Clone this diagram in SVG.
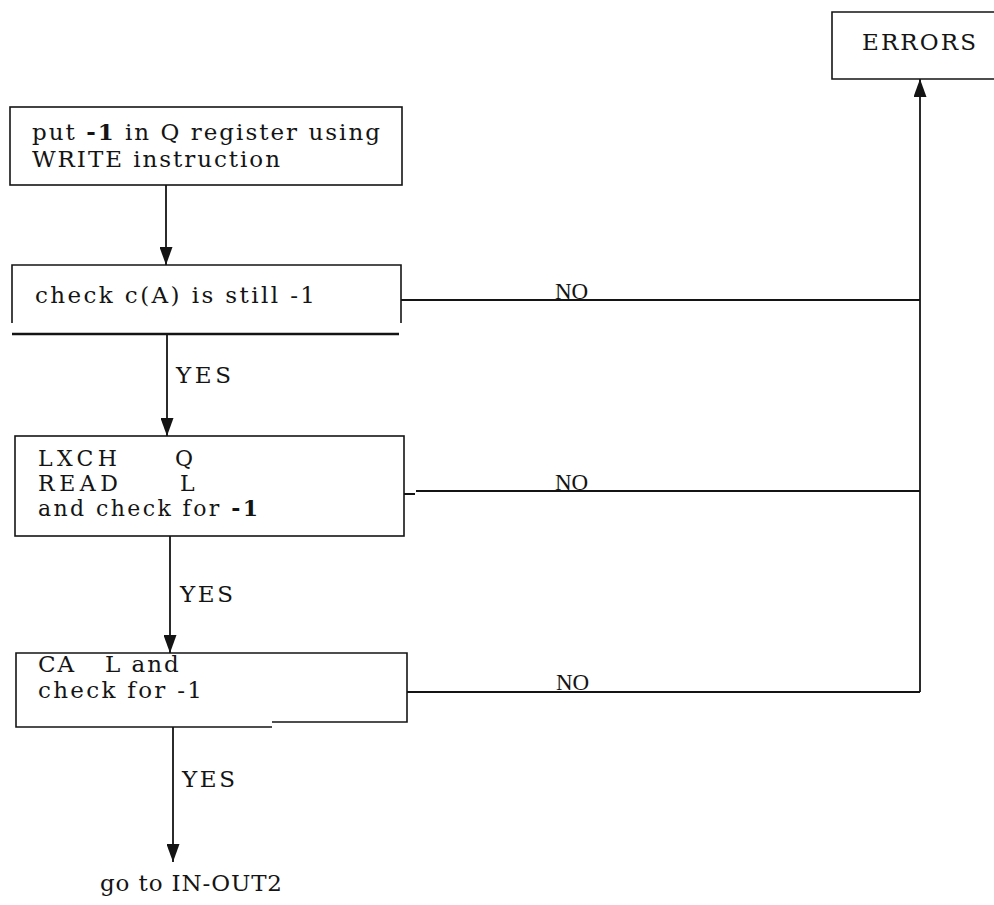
<svg xmlns="http://www.w3.org/2000/svg" width="994" height="905" viewBox="0 0 994 905">
  <style>
    .box{fill:none;stroke:#141414;stroke-width:1.6}
    .ln{fill:none;stroke:#141414;stroke-width:1.8}
    .heavy{fill:none;stroke:#141414;stroke-width:2.6}
    .t{font-family:"DejaVu Serif","Liberation Serif",serif;font-size:23px;fill:#141414}
    .s{font-size:22px}
    .no{font-family:"Liberation Serif","Times New Roman",serif;font-size:23px;fill:#141414}
    .b{font-weight:bold}
  </style>
  <defs>
    <marker id="ah" viewBox="0 0 18 13" refX="18" refY="6.5" markerWidth="18" markerHeight="13" markerUnits="userSpaceOnUse" orient="auto">
      <path d="M0,0 L18,6.5 L0,13 z" fill="#141414"/>
    </marker>
  </defs>

  <rect width="994" height="905" fill="#ffffff"/>

  <!-- error exit (box runs off the right edge) -->
  <g id="errors">
    <path class="box" d="M1000,12 H832 V79 H1000"/>
    <text class="t" x="862" y="50" textLength="114">ERRORS</text>
  </g>

  <!-- step 1 -->
  <g id="put-q">
    <rect class="box" x="10" y="107" width="392" height="78"/>
    <text class="t" x="32" y="140" textLength="348">put <tspan class="b">-1</tspan> in Q register using</text>
    <text class="t" x="32" y="167" textLength="248">WRITE instruction</text>
  </g>

  <!-- step 2 -->
  <g id="check-a">
    <path class="box" d="M12,323 V265 H401 V323"/>
    <path class="heavy" d="M12,334 H399"/>
    <text class="t" x="35" y="303" textLength="280">check c(A) is still -1</text>
  </g>

  <!-- step 3 -->
  <g id="lxch">
    <rect class="box" x="15" y="436" width="389" height="100"/>
    <text class="t s" x="38" y="466" textLength="79">LXCH</text>
    <text class="t s" x="175" y="466">Q</text>
    <text class="t s" x="38" y="491" textLength="80">READ</text>
    <text class="t s" x="180" y="491">L</text>
    <text class="t s" x="38" y="516" textLength="220">and check for <tspan class="b">-1</tspan></text>
  </g>

  <!-- step 4 -->
  <g id="ca-l">
    <path class="box" d="M272,727 H16 V653 H407 V722 H272"/>
    <text class="t" x="38" y="672" letter-spacing="2">CA</text>
    <text class="t" x="105" y="672" letter-spacing="2">L and</text>
    <text class="t" x="38" y="698" textLength="164">check for -1</text>
  </g>

  <!-- exit -->
  <g id="in-out2">
    <text class="t" x="100" y="891" textLength="182">go to IN-OUT2</text>
  </g>

  <!-- connectors -->
  <g id="connectors">
    <path class="ln" d="M166,185 V265" marker-end="url(#ah)"/>
    <path class="ln" d="M167,334 V436" marker-end="url(#ah)"/>
    <path class="ln" d="M170,536 V653" marker-end="url(#ah)"/>
    <path class="ln" d="M173,727 V862" marker-end="url(#ah)"/>
    <path class="ln" d="M920,692 V79" marker-end="url(#ah)"/>
    <path class="ln" d="M401,300 H920"/>
    <path class="ln" d="M404,494 H415 M416,491 H920"/>
    <path class="ln" d="M407,692 H920"/>
    <text class="t" x="176" y="383" textLength="55">YES</text>
    <text class="t" x="180" y="602" textLength="53">YES</text>
    <text class="t" x="182" y="787" textLength="53">YES</text>
    <text class="no" x="555" y="299">NO</text>
    <text class="no" x="555" y="490">NO</text>
    <text class="no" x="556" y="690">NO</text>
  </g>
</svg>
